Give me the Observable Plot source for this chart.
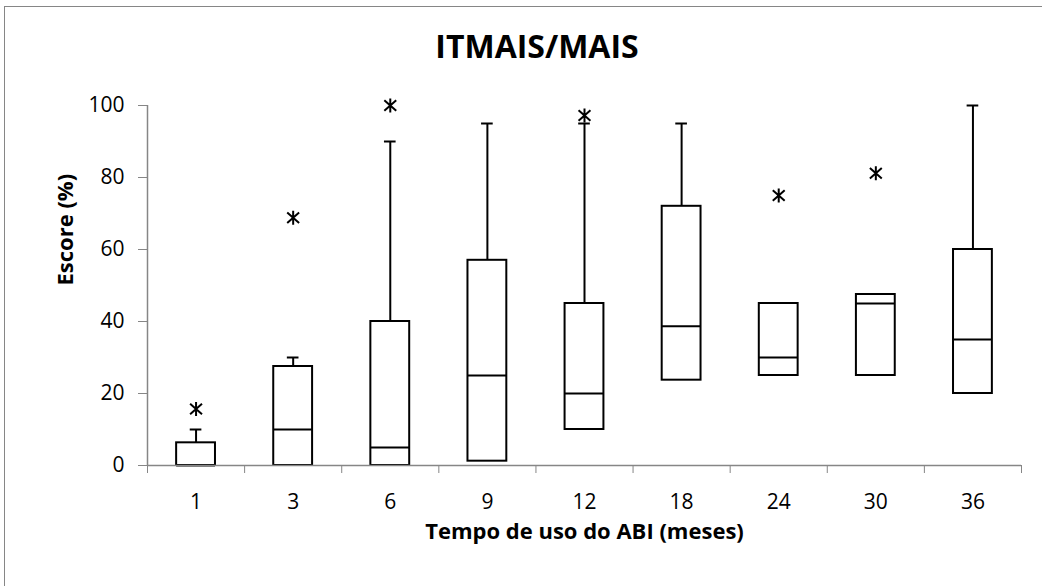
<!DOCTYPE html>
<html>
<head>
<meta charset="utf-8">
<script src="https://cdn.jsdelivr.net/npm/d3@7"></script>
<script src="https://cdn.jsdelivr.net/npm/@observablehq/plot@0.6"></script>
<style>
  html, body { margin: 0; padding: 0; background: #fff; overflow: hidden; }
  #chart { position: relative; width: 1042px; height: 586px; font-family: "Open Sans", sans-serif; }
  #frame { position: absolute; left: 4px; top: 6px; width: 1200px; height: 800px;
           border-top: 1.5px solid #868686; border-left: 1.5px solid #868686; }
  #title { position: absolute; left: 16px; top: 30px; width: 1042px; text-align: center;
           font-size: 32px; line-height: 32px; font-weight: 700; color: #000; }
  #chart svg { position: absolute; left: 0; top: 0; }
</style>
</head>
<body>
<div id="chart">
  <div id="frame"></div>
  <div id="title">ITMAIS/MAIS</div>
</div>
<script>
// Months of ABI use (one box per group)
const categories = ["1", "3", "6", "9", "12", "18", "24", "30", "36"];
// Box-plot statistics per group (score, %)
const q1     = [0,   0,    0,  1.2, 10, 23.7, 25, 25,   20];
const median = [0,   10,   5,  25,  20, 38.7, 30, 45,   35];
const q3     = [6.3, 27.5, 40, 57,  45, 72,   45, 47.5, 60];
const upper  = [10,  30,   90, 95,  95, 95,   45, 47.5, 100];
// Outliers drawn as asterisks
const outlierCategory = ["1",  "3",  "6", "12", "24", "30"];
const outlierValue    = [15.7, 68.8, 100, 97.2, 75,   81.2];
// Y axis ticks
const yTicks = [0, 20, 40, 60, 80, 100];

const boxHalf = 0.2;   // half box width, in group units
const capHalf = 0.06;  // half whisker-cap width
const axisGray = "#868686";

const rows = categories.map((c, i) => ({
  c, pos: i + 0.5, q1: q1[i], median: median[i], q3: q3[i], upper: upper[i]
}));
const outlierRows = outlierCategory.map((c, k) => ({
  pos: categories.indexOf(c) + 0.5, value: outlierValue[k]
}));

// Spreadsheet-style asterisk: vertical stroke plus an X
const asterisk = {
  draw(context, size) {
    const h = Math.sqrt(size / Math.PI);
    context.moveTo(0, -h); context.lineTo(0, h);
    context.moveTo(-0.85 * h, -0.75 * h); context.lineTo(0.85 * h, 0.75 * h);
    context.moveTo(-0.85 * h, 0.75 * h); context.lineTo(0.85 * h, -0.75 * h);
  }
};

const chart = Plot.plot({
  width: 1042,
  height: 586,
  marginLeft: 147,
  marginRight: 21,
  marginTop: 105,
  marginBottom: 121,
  style: { fontFamily: "Open Sans, sans-serif", color: "#000", background: "transparent", overflow: "visible" },
  x: { domain: [0, categories.length] },
  y: { domain: [0, 100] },
  marks: [
    // upper whiskers and caps
    Plot.ruleX(rows, { x: "pos", y1: "q3", y2: "upper", stroke: "#000", strokeWidth: 2 }),
    Plot.ruleY(rows, { y: "upper", x1: d => d.pos - capHalf, x2: d => d.pos + capHalf, stroke: "#000", strokeWidth: 2 }),
    // boxes
    Plot.rect(rows, { x1: d => d.pos - boxHalf, x2: d => d.pos + boxHalf, y1: "q1", y2: "q3",
                      fill: "#fff", stroke: "#000", strokeWidth: 2 }),
    // medians
    Plot.ruleY(rows, { y: "median", x1: d => d.pos - boxHalf, x2: d => d.pos + boxHalf, stroke: "#000", strokeWidth: 2 }),
    // outliers
    Plot.dot(outlierRows, { x: "pos", y: "value", symbol: asterisk, r: 7, fill: "none", stroke: "#000", strokeWidth: 2 }),
    // axis lines
    Plot.ruleY([0], { stroke: axisGray, strokeWidth: 1.5 }),
    Plot.ruleX([0], { stroke: axisGray, strokeWidth: 1.5 }),
    Plot.axisY({ ticks: yTicks, tickSize: 9, tickPadding: 14, stroke: axisGray, fill: "#000",
                 fontSize: 21, label: null }),
    Plot.axisX({ ticks: d3.range(categories.length + 1), tickSize: 8, tickFormat: () => "",
                 stroke: axisGray, label: null }),
    Plot.axisX({ ticks: rows.map(d => d.pos), tickSize: 0, tickPadding: 29,
                 tickFormat: v => categories[Math.floor(v)], fill: "#000", fontSize: 21, label: null }),
    // axis titles
    Plot.text(["Escore (%)"], { frameAnchor: "left", dx: -82, rotate: -90, fontSize: 22, fontWeight: "bold", fill: "#000" }),
    Plot.text(["Tempo de uso do ABI (meses)"], { frameAnchor: "bottom", dy: 73, fontSize: 22, fontWeight: "bold", fill: "#000" })
  ]
});

document.getElementById("chart").appendChild(chart);
</script>
</body>
</html>
